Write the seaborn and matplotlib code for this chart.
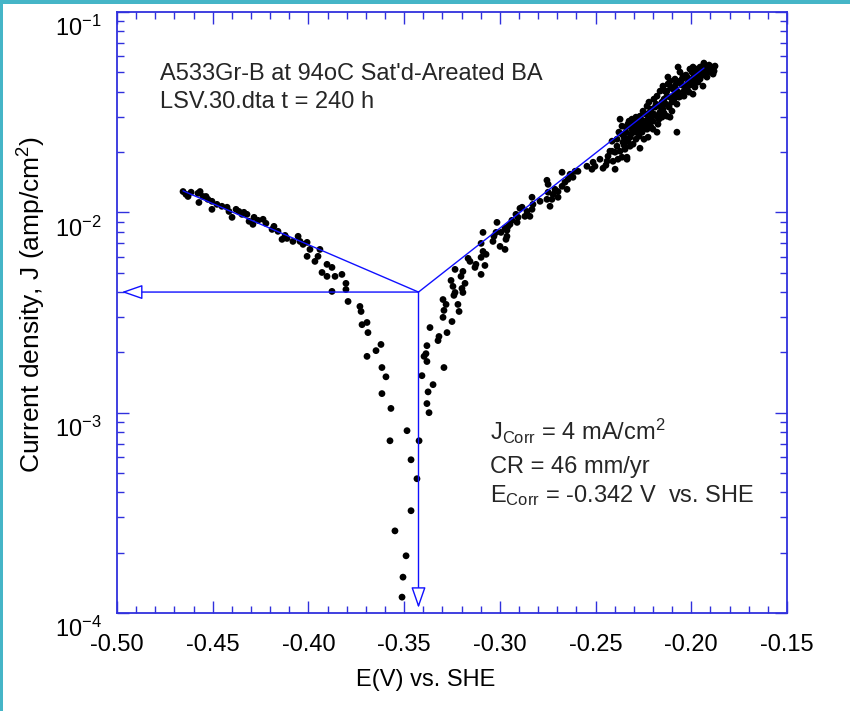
import matplotlib
matplotlib.use('Agg')
import matplotlib.pyplot as plt
import matplotlib.transforms as mtransforms
from matplotlib.patches import Rectangle
from matplotlib.ticker import MultipleLocator, FormatStrFormatter, LogLocator, NullFormatter
import numpy as np
import pandas as pd
import seaborn as sns

# cathodic branch: E (V vs. SHE) and current density J (amp/cm2)
e_cathodic = [-0.4655, -0.4640, -0.4629, -0.4577, -0.4566, -0.4551, -0.4572, -0.4535, -0.4504, -0.4504,
              -0.4478, -0.4452, -0.4425, -0.4415, -0.4399, -0.4378, -0.4363, -0.4347, -0.4321, -0.4310,
              -0.4290, -0.4284, -0.4237, -0.4222, -0.4190, -0.4180, -0.4159, -0.4138, -0.4112, -0.4081,
              -0.4054, -0.4044, -0.4028, -0.4007, -0.3992, -0.4007, -0.3966, -0.3940, -0.3950, -0.3903,
              -0.3877, -0.3929, -0.3903, -0.3861, -0.3825, -0.3877, -0.3804, -0.3804, -0.3793, -0.3731,
              -0.3725, -0.3720, -0.3694, -0.3689, -0.3621, -0.3647, -0.3694, -0.3616, -0.3595, -0.3616,
              -0.3569, -0.3485, -0.3574, -0.3464, -0.3433, -0.3464, -0.3548, -0.3490, -0.3506, -0.3511,
              -0.4613, -0.4525, -0.4337, -0.4263, -0.4122]
j_cathodic = [0.0127, 0.0123, 0.0120, 0.01245, 0.0127, 0.0120, 0.0112, 0.0120, 0.01135, 0.01035,
              0.01096, 0.01072, 0.0106, 0.0101, 0.00944, 0.01035, 0.0101, 0.00977, 0.00977, 0.00902,
              0.00871, 0.00944, 0.00923, 0.00881, 0.00822, 0.00851, 0.00804, 0.00733, 0.00741, 0.00716,
              0.00759, 0.00716, 0.00692, 0.00708, 0.00653, 0.00603, 0.00569, 0.00653, 0.00603, 0.0055,
              0.00531, 0.00501, 0.00479, 0.00479, 0.0049, 0.00403, 0.00442, 0.00412, 0.00359, 0.00339,
              0.0032, 0.00275, 0.00282, 0.00251, 0.00219, 0.00204, 0.00191, 0.00168, 0.00151, 0.001245,
              0.00105, 0.000813, 0.000724, 0.000582, 0.000468, 0.000324, 0.000257, 0.000193, 0.000151, 0.00012,
              0.0126, 0.01161, 0.0100, 0.00912, 0.00767]

# anodic branch
e_anodic = [-0.3422, -0.3370, -0.3381, -0.3349, -0.3375, -0.3407, -0.3292, -0.3381, -0.3396, -0.3386,
            -0.3381, -0.3323, -0.3318, -0.3276, -0.3365, -0.3250, -0.3297, -0.3213, -0.3292, -0.3281,
            -0.3219, -0.3297, -0.3240, -0.3234, -0.3193, -0.3198, -0.3182, -0.3245, -0.3255, -0.3203,
            -0.3193, -0.3234, -0.3166, -0.3156, -0.3125, -0.3130, -0.3098, -0.3078, -0.3098, -0.3088,
            -0.3072, -0.3098, -0.3088, -0.3036, -0.3031, -0.3020, -0.3015, -0.2999, -0.2973, -0.2968,
            -0.2994, -0.2973, -0.2963, -0.2947, -0.2910, -0.2916, -0.2895, -0.2957, -0.2963, -0.2937,
            -0.2905, -0.2884, -0.2869, -0.2858, -0.2843, -0.2832, -0.2827, -0.2832, -0.2790, -0.2754,
            -0.2748, -0.2738, -0.2728, -0.2722, -0.2712, -0.2748, -0.2754, -0.2696, -0.2696, -0.2675,
            -0.2675, -0.2660, -0.2649, -0.2644, -0.2633, -0.2618, -0.2607, -0.2592, -0.2545, -0.2519,
            -0.2513, -0.2503, -0.2461, -0.2440, -0.2435, -0.2425, -0.2414, -0.2409, -0.2398, -0.2398,
            -0.2388, -0.2383, -0.2372, -0.2362, -0.2357, -0.2346, -0.2336, -0.2372, -0.2362, -0.2331,
            -0.2331, -0.2268, -0.2320, -0.2310, -0.2284, -0.2268, -0.2252, -0.2231, -0.2226, -0.2216,
            -0.2200, -0.2179, -0.2163, -0.2153, -0.2163, -0.2127, -0.2122, -0.2111, -0.2101, -0.2095,
            -0.2075, -0.2069, -0.2059, -0.2059, -0.2043, -0.2033, -0.2017, -0.2007, -0.1996, -0.1991,
            -0.1970, -0.1965, -0.1954, -0.1939, -0.1918, -0.1913, -0.1892, -0.1886, -0.1876, -0.2075,
            -0.2111, -0.2127, -0.2257, -0.2294, -0.2310, -0.2231, -0.2205, -0.2189, -0.2148, -0.2179, -0.2148,
            -0.2336, -0.2069, -0.1939, -0.1991, -0.2179, -0.2226, -0.2320,
            -0.2289, -0.2263, -0.2242, -0.2216, -0.2247, -0.2278, -0.2200, -0.2174, -0.2153, -0.2132,
            -0.2111, -0.2085, -0.2101, -0.2054, -0.2038, -0.2022, -0.2007, -0.1986, -0.1975, -0.1960,
            -0.1944, -0.1928, -0.1907, -0.1897, -0.2028, -0.2048, -0.2080, -0.2137, -0.2299, -0.2341,
            -0.2351, -0.2304, -0.2273, -0.2242, -0.2221, -0.2195, -0.2122, -0.2085, -0.1981, -0.1954,
            -0.2362, -0.2341, -0.2325, -0.2315, -0.2304, -0.2289, -0.2278, -0.2263, -0.2252, -0.2237,
            -0.2226, -0.2210, -0.2210, -0.2195, -0.2184, -0.2169, -0.2158, -0.2142, -0.2142, -0.2127,
            -0.2116, -0.2106, -0.2090, -0.2080, -0.2064, -0.2048, -0.2038, -0.2022, -0.2012, -0.1996,
            -0.1986, -0.1970, -0.1949, -0.1934, -0.1923, -0.1902, -0.1881, -0.2388, -0.2378, -0.2351,
            -0.2414, -0.2446, -0.2477]
j_anodic = [0.000724, 0.00100, 0.00111, 0.00138, 0.00127, 0.00153, 0.00168, 0.0018, 0.00191, 0.00197,
            0.00216, 0.00229, 0.0024, 0.00251, 0.00266, 0.00285, 0.00299, 0.0032, 0.00324, 0.00347,
            0.00347, 0.00367, 0.00385, 0.00398, 0.00398, 0.00417, 0.00442, 0.00427, 0.00457, 0.00479,
            0.00507, 0.00519, 0.00589, 0.00569, 0.0055, 0.00531, 0.0049, 0.00543, 0.00596, 0.00638,
            0.00617, 0.0070, 0.00794, 0.00716, 0.00759, 0.00794, 0.00891, 0.00676, 0.00653, 0.00733,
            0.00794, 0.00832, 0.00813, 0.00871, 0.00891, 0.00977, 0.01047, 0.00851, 0.00759, 0.00912,
            0.00944, 0.0106, 0.00955, 0.0101, 0.00955, 0.01035, 0.01096, 0.01189, 0.01135, 0.01161,
            0.0126, 0.01072, 0.01161, 0.0123, 0.01303, 0.0138, 0.01445, 0.01189, 0.0127, 0.01349,
            0.01585, 0.01413, 0.01303, 0.01462, 0.01549, 0.01496, 0.01603, 0.01603, 0.01698, 0.01641,
            0.01778, 0.01698, 0.0166, 0.01799, 0.01905, 0.02018, 0.02265, 0.01799, 0.01995, 0.01641,
            0.02138, 0.01841, 0.02018, 0.01884, 0.02239, 0.02065, 0.01884, 0.02917, 0.02692, 0.02265,
            0.02754, 0.02089, 0.02371, 0.02917, 0.02818, 0.0302, 0.03199, 0.03388, 0.02917, 0.02692,
            0.026, 0.0302, 0.03162, 0.03548, 0.04027, 0.03802, 0.04365, 0.04519, 0.03548, 0.04121,
            0.03467, 0.03981, 0.04519, 0.05012, 0.04786, 0.04266, 0.04467, 0.05188, 0.04624, 0.05309,
            0.04898, 0.04467, 0.05309, 0.0537, 0.04732, 0.0507, 0.05309, 0.04898, 0.0537, 0.02512,
            0.02985, 0.0302, 0.02512, 0.02512, 0.026, 0.026, 0.0302, 0.0335, 0.03273, 0.03802, 0.04266,
            0.01841, 0.05309, 0.04266, 0.0389, 0.02512, 0.02371, 0.02138,
            0.02317, 0.02723, 0.02851, 0.03162, 0.02317, 0.02661, 0.02851, 0.02754, 0.02985, 0.03467,
            0.03758, 0.0389, 0.03199, 0.03802, 0.04027, 0.04121, 0.04315, 0.04842, 0.05188, 0.04898,
            0.0507, 0.05188, 0.05433, 0.05012, 0.04842, 0.04315, 0.04365, 0.04027, 0.02754, 0.02512,
            0.02371, 0.02188, 0.02399, 0.02661, 0.03548, 0.03673, 0.04732, 0.04624, 0.04217, 0.04624,
            0.02455, 0.02661, 0.02851, 0.02455, 0.02661, 0.02985, 0.02512, 0.02917, 0.026, 0.0309,
            0.02754, 0.03273, 0.02661, 0.0309, 0.03467, 0.02917, 0.0335, 0.03673, 0.03126, 0.04027,
            0.0335, 0.04217, 0.03673, 0.04121, 0.03758, 0.04624, 0.03802, 0.04732, 0.03981, 0.05012,
            0.04416, 0.04624, 0.04786, 0.05559, 0.04898, 0.05188, 0.0507, 0.02317, 0.02512, 0.02163,
            0.02018, 0.01718, 0.01841]

# Tafel fit: cathodic start, corrosion point, anodic end
tafel_e = [-0.4655, -0.3425, -0.1934]
tafel_j = [0.0128, 0.0040, 0.0525]
e_corr = -0.3425
j_corr = 0.0040

frame_color = '#3030dd'
line_color = '#1010ff'

sns.set_style('ticks')
plt.rcParams['font.family'] = ['Liberation Sans', 'DejaVu Sans']
plt.rcParams['mathtext.fontset'] = 'custom'
plt.rcParams['mathtext.rm'] = 'Liberation Sans'
plt.rcParams['mathtext.it'] = 'Liberation Sans:italic'
plt.rcParams['axes.unicode_minus'] = False

fig = plt.figure(figsize=(8.5, 7.11), dpi=100)
ax = fig.add_axes([117 / 850, 98 / 711, 670 / 850, 601 / 711])

df = pd.DataFrame({'E': e_cathodic + e_anodic, 'J': j_cathodic + j_anodic})
sns.scatterplot(data=df, x='E', y='J', color='black', s=24, edgecolor='none', ax=ax, zorder=3)

ax.plot(tafel_e, tafel_j, color=line_color, lw=1.0, zorder=4)

arrow_kw = dict(arrowstyle='-|>,head_length=0.43,head_width=0.15', mutation_scale=30,
                fc='white', ec=line_color, lw=1.0, shrinkA=0, shrinkB=0)
ax.annotate('', xy=(-0.4975, j_corr), xytext=(e_corr, j_corr), arrowprops=arrow_kw, zorder=4)
ax.annotate('', xy=(e_corr, 1.06e-4), xytext=(e_corr, j_corr), arrowprops=arrow_kw, zorder=4)

ax.set_yscale('log')
ax.set_xlim(-0.5, -0.15)
ax.set_ylim(1e-4, 1e-1)
ax.xaxis.set_major_locator(MultipleLocator(0.05))
ax.xaxis.set_minor_locator(MultipleLocator(0.01))
ax.xaxis.set_major_formatter(FormatStrFormatter('%.2f'))
ax.set_yticks([1e-4, 1e-3, 1e-2, 1e-1])
ax.yaxis.set_minor_locator(LogLocator(base=10, subs=np.arange(2, 10), numticks=10))
ax.yaxis.set_minor_formatter(NullFormatter())

ax.tick_params(which='both', direction='in', top=True, right=True,
               color=frame_color, labelcolor='black', labelsize=17)
ax.tick_params(which='major', length=8.6, width=1.0)
ax.tick_params(which='minor', length=4.7, width=1.0)
ax.tick_params(axis='x', pad=15)
ax.tick_params(axis='y', pad=11)
for sp in ax.spines.values():
    sp.set_color(frame_color)
    sp.set_linewidth(1.3)

# y labels sit a bit below their ticks
shift = mtransforms.ScaledTranslation(0, -14 / 100, fig.dpi_scale_trans)
for tick in ax.yaxis.get_major_ticks():
    tick.label1.set_transform(tick.label1.get_transform() + shift)

ax.set_xlabel('E(V) vs. SHE', fontsize=17, color='black')
ax.set_ylabel('Current density, J (amp/cm$^{2}$)', fontsize=19, color='black')
ax.xaxis.label.set_va('center')
ax.yaxis.label.set_va('center')
ax.xaxis.set_label_coords((426 - 117) / 670, (613 - 680) / 600)
ax.yaxis.set_label_coords((32 - 117) / 670, (613 - 305) / 600)

ax.text(0.064, 0.887, "A533Gr-B at 94oC Sat'd-Areated BA", transform=ax.transAxes,
        fontsize=17, va='baseline')
ax.text(0.064, 0.840, 'LSV.30.dta t = 240 h', transform=ax.transAxes,
        fontsize=17, va='baseline')
ax.text(0.557, 0.288, 'J$_{\\mathrm{Corr}}$ = 4 mA/cm$^{2}$', transform=ax.transAxes,
        fontsize=17, va='baseline')
ax.text(0.557, 0.233, 'CR = 46 mm/yr', transform=ax.transAxes,
        fontsize=17, va='baseline')
ax.text(0.557, 0.185, 'E$_{\\mathrm{Corr}}$ = -0.342 V  vs. SHE', transform=ax.transAxes,
        fontsize=17, va='baseline')

# teal frame strips along the top and left edges of the picture
fig.add_artist(Rectangle((0, 1 - 4 / 711), 1, 4 / 711, transform=fig.transFigure,
                         color='#45b5c7', lw=0))
fig.add_artist(Rectangle((0, 0), 3 / 850, 1, transform=fig.transFigure,
                         color='#45b5c7', lw=0))

fig.savefig('out.png', dpi=100)
